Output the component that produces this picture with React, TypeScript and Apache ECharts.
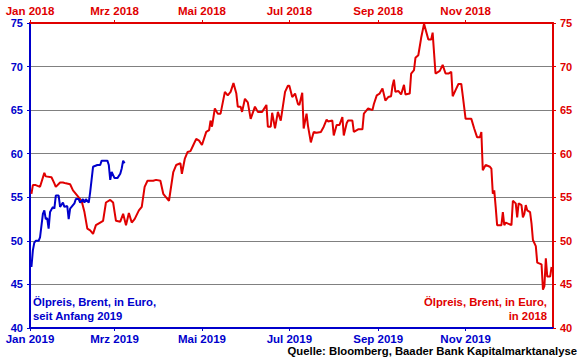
import React, { useEffect, useRef } from "react";
import * as echarts from "echarts";

const RED = "#e00000";
const BLUE = "#0000cc";
const FONT = "'Liberation Sans', Arial, sans-serif";

const monthNames = ["Jan", "Feb", "Mrz", "Apr", "Mai", "Jun", "Jul", "Aug", "Sep", "Okt", "Nov", "Dez"];
const topTickDates = ["2018-01-01", "2018-03-01", "2018-05-01", "2018-07-01", "2018-09-01", "2018-11-01"];
const bottomTickDates = ["2019-01-01", "2019-03-01", "2019-05-01", "2019-07-01", "2019-09-01", "2019-11-01"];

const redDates = [
  "2018-01-02","2018-01-03","2018-01-05","2018-01-08","2018-01-11","2018-01-12","2018-01-16","2018-01-18","2018-01-19","2018-01-22",
  "2018-01-24","2018-01-26","2018-01-29","2018-01-31","2018-02-02","2018-02-06","2018-02-08","2018-02-10","2018-02-12","2018-02-14",
  "2018-02-16","2018-02-19","2018-02-21","2018-02-23","2018-02-26","2018-02-28","2018-03-02","2018-03-05","2018-03-07","2018-03-09",
  "2018-03-11","2018-03-13","2018-03-15","2018-03-18","2018-03-20","2018-03-22","2018-03-24","2018-03-28","2018-03-30","2018-04-02",
  "2018-04-04","2018-04-06","2018-04-08","2018-04-11","2018-04-13","2018-04-16","2018-04-17","2018-04-19","2018-04-21","2018-04-23",
  "2018-04-25","2018-04-27","2018-04-29","2018-05-01","2018-05-04","2018-05-06","2018-05-07","2018-05-08","2018-05-10","2018-05-12",
  "2018-05-14","2018-05-17","2018-05-19","2018-05-21","2018-05-23","2018-05-25","2018-05-26","2018-05-28","2018-05-29","2018-05-31",
  "2018-06-02","2018-06-04","2018-06-07","2018-06-09","2018-06-12","2018-06-15","2018-06-16","2018-06-18","2018-06-19","2018-06-21",
  "2018-06-23","2018-06-25","2018-06-28","2018-06-30","2018-07-01","2018-07-03","2018-07-05","2018-07-07","2018-07-08","2018-07-10",
  "2018-07-11","2018-07-13","2018-07-14","2018-07-16","2018-07-18","2018-07-20","2018-07-23","2018-07-25","2018-07-27","2018-07-28",
  "2018-07-31","2018-08-01","2018-08-03","2018-08-05","2018-08-07","2018-08-08","2018-08-10","2018-08-11","2018-08-14","2018-08-15",
  "2018-08-18","2018-08-21","2018-08-22","2018-08-25","2018-08-28","2018-08-29","2018-08-31","2018-09-02","2018-09-04","2018-09-06",
  "2018-09-08","2018-09-10","2018-09-11","2018-09-12","2018-09-13","2018-09-15","2018-09-17","2018-09-19","2018-09-20","2018-09-23",
  "2018-09-24","2018-09-26","2018-09-27","2018-09-29","2018-10-01","2018-10-03","2018-10-06","2018-10-08","2018-10-09","2018-10-11",
  "2018-10-14","2018-10-16","2018-10-18","2018-10-20","2018-10-22","2018-10-23","2018-10-25","2018-10-27","2018-10-29","2018-10-30",
  "2018-11-01","2018-11-03","2018-11-05","2018-11-07","2018-11-09","2018-11-11","2018-11-12","2018-11-13","2018-11-15","2018-11-18",
  "2018-11-19","2018-11-20","2018-11-21","2018-11-22","2018-11-23","2018-11-26","2018-11-27","2018-11-28","2018-11-29","2018-12-03",
  "2018-12-04","2018-12-06","2018-12-07","2018-12-08","2018-12-10","2018-12-11","2018-12-12","2018-12-13","2018-12-14","2018-12-16",
  "2018-12-17","2018-12-18","2018-12-20","2018-12-21","2018-12-24","2018-12-25","2018-12-26","2018-12-27","2018-12-28","2018-12-30",
  "2018-12-31"
];
const redValues = [
  55.4,56.4,56.4,56.2,57.8,57.4,57.3,56.6,56.2,56.7,
  56.7,56.6,56.5,55.8,55.4,54.6,53.3,51.4,51.2,50.8,
  51.8,52.1,52.3,54.4,54.7,54.4,52.3,52.2,53.1,51.8,
  53.2,52.1,52.5,53.5,53.9,56.2,56.9,56.9,57.0,56.9,
  55.4,55.0,54.6,57.9,58.7,58.9,57.7,59.4,60.2,60.3,
  61.0,61.7,61.5,61.0,62.5,62.7,63.8,63.1,65.2,64.6,
  64.6,67.1,66.7,67.1,68.1,66.9,65.4,65.4,64.8,66.3,
  65.9,64.0,65.4,64.8,64.8,65.6,63.1,63.1,64.7,62.9,
  64.8,63.8,67.1,67.8,67.8,66.5,66.9,65.7,65.6,67.0,
  62.9,64.6,63.2,61.3,62.5,62.4,62.5,63.1,63.9,63.7,
  63.8,62.1,63.3,63.3,64.2,62.1,63.5,63.8,63.8,62.5,
  62.8,62.8,64.6,65.2,65.0,65.7,66.7,66.9,67.5,66.1,
  66.5,66.6,67.8,68.5,67.1,67.2,66.8,67.9,66.8,66.9,
  69.2,69.6,71.0,71.3,73.3,74.9,73.1,73.1,73.9,69.2,
  69.5,70.2,69.2,69.2,69.4,66.6,67.3,68.0,68.0,66.7,
  64.0,64.0,64.0,62.9,61.9,61.9,62.5,58.1,58.7,58.5,
  58.3,55.4,55.8,53.9,51.8,51.8,53.3,51.8,52.1,51.8,
  54.6,54.3,52.7,54.3,54.1,52.7,53.1,54.1,53.5,53.3,
  52.0,50.1,49.4,47.5,47.3,44.4,44.8,48.0,45.9,45.9,
  47.0
];

const blueDates = [
  "2019-01-02","2019-01-03","2019-01-04","2019-01-05","2019-01-07","2019-01-08","2019-01-10","2019-01-11","2019-01-12","2019-01-13",
  "2019-01-14","2019-01-15","2019-01-17","2019-01-18","2019-01-19","2019-01-21","2019-01-22","2019-01-24","2019-01-25","2019-01-27",
  "2019-01-28","2019-01-29","2019-02-01","2019-02-02","2019-02-04","2019-02-05","2019-02-07","2019-02-08","2019-02-09","2019-02-11",
  "2019-02-12","2019-02-14","2019-02-17","2019-02-19","2019-02-20","2019-02-24","2019-02-25","2019-02-26","2019-02-27","2019-03-01",
  "2019-03-03","2019-03-05","2019-03-06","2019-03-07","2019-03-08"
];
const blueValues = [
  47.0,48.9,49.8,50.0,50.0,50.4,53.1,53.5,52.5,52.6,
  51.4,53.3,53.9,53.7,55.2,55.2,53.9,54.4,53.9,54.0,
  52.5,53.7,54.3,54.8,54.8,54.4,54.8,54.4,54.8,54.4,
  55.6,58.5,58.7,58.7,59.2,59.2,58.7,57.0,57.9,57.2,
  57.2,57.7,58.3,59.2,58.9
];

const blueLabel = "Ölpreis, Brent, in Euro,\nseit Anfang 2019";
const redLabel = "Ölpreis, Brent, in Euro,\nin 2018";
const sourceLabel = "Quelle: Bloomberg, Baader Bank Kapitalmarktanalyse";

const ts = (d: string) => Date.parse(d);
const fmtMonth = (v: number) => {
  const d = new Date(v);
  return monthNames[d.getUTCMonth()] + " " + d.getUTCFullYear();
};

export default function App() {
  const ref = useRef<HTMLDivElement>(null);
  useEffect(() => {
    document.body.style.margin = "0";
    if (!ref.current) return;
    const chart = echarts.init(ref.current, undefined, { renderer: "svg" });
    const axisX = (color: string, pos: string, ticks: string[], start: string, end: string, margin: number) => ({
      type: "value",
      position: pos,
      min: ts(start),
      max: ts(end),
      axisLine: { show: true, onZero: false, lineStyle: { color, width: 2 } },
      axisTick: { show: true, length: 3, customValues: ticks.map(ts), lineStyle: { color, width: 1 } },
      axisLabel: {
        customValues: ticks.map(ts),
        formatter: (v: number) => fmtMonth(v),
        color,
        fontWeight: "bold",
        fontSize: 11.5,
        fontFamily: FONT,
        margin,
      },
      splitLine: { show: false },
    });
    const axisY = (color: string, pos: string, grid: boolean) => ({
      type: "value",
      position: pos,
      min: 40,
      max: 75,
      interval: 5,
      axisLine: { show: true, lineStyle: { color, width: 2 } },
      axisTick: { show: true, length: 3, lineStyle: { color, width: 1 } },
      axisLabel: { color, fontWeight: "bold", fontSize: 11, fontFamily: FONT, margin: 7 },
      splitLine: { show: grid, lineStyle: { color: "#808080", width: 1 } },
    });
    chart.setOption({
      animation: false,
      backgroundColor: "#ffffff",
      grid: { left: 30, right: 27, top: 23, bottom: 31, containLabel: false },
      xAxis: [
        axisX(RED, "top", topTickDates, "2018-01-01", "2019-01-01", 6),
        axisX(BLUE, "bottom", bottomTickDates, "2019-01-01", "2020-01-01", 5),
      ],
      yAxis: [axisY(BLUE, "left", true), axisY(RED, "right", false)],
      series: [
        {
          type: "line",
          name: "2018",
          xAxisIndex: 0,
          yAxisIndex: 1,
          showSymbol: false,
          symbol: "none",
          lineStyle: { color: RED, width: 2 },
          data: redDates.map((d, i) => [ts(d), redValues[i]]),
        },
        {
          type: "line",
          name: "2019",
          xAxisIndex: 1,
          yAxisIndex: 0,
          showSymbol: false,
          symbol: "none",
          lineStyle: { color: BLUE, width: 2 },
          data: blueDates.map((d, i) => [ts(d), blueValues[i]]),
        },
      ],
      graphic: [
        {
          type: "text",
          left: 33,
          top: 295,
          style: { text: blueLabel, fill: BLUE, font: `bold 11.3px ${FONT}`, lineHeight: 14 },
        },
        {
          type: "text",
          right: 33,
          top: 295,
          style: { text: redLabel, fill: RED, font: `bold 11.3px ${FONT}`, lineHeight: 14, textAlign: "right" },
        },
        {
          type: "text",
          right: 3,
          top: 345,
          style: { text: sourceLabel, fill: "#000000", font: `bold 11.3px ${FONT}` },
        },
      ],
    });
    return () => chart.dispose();
  }, []);
  return <div ref={ref} style={{ width: 580, height: 359 }} />;
}
